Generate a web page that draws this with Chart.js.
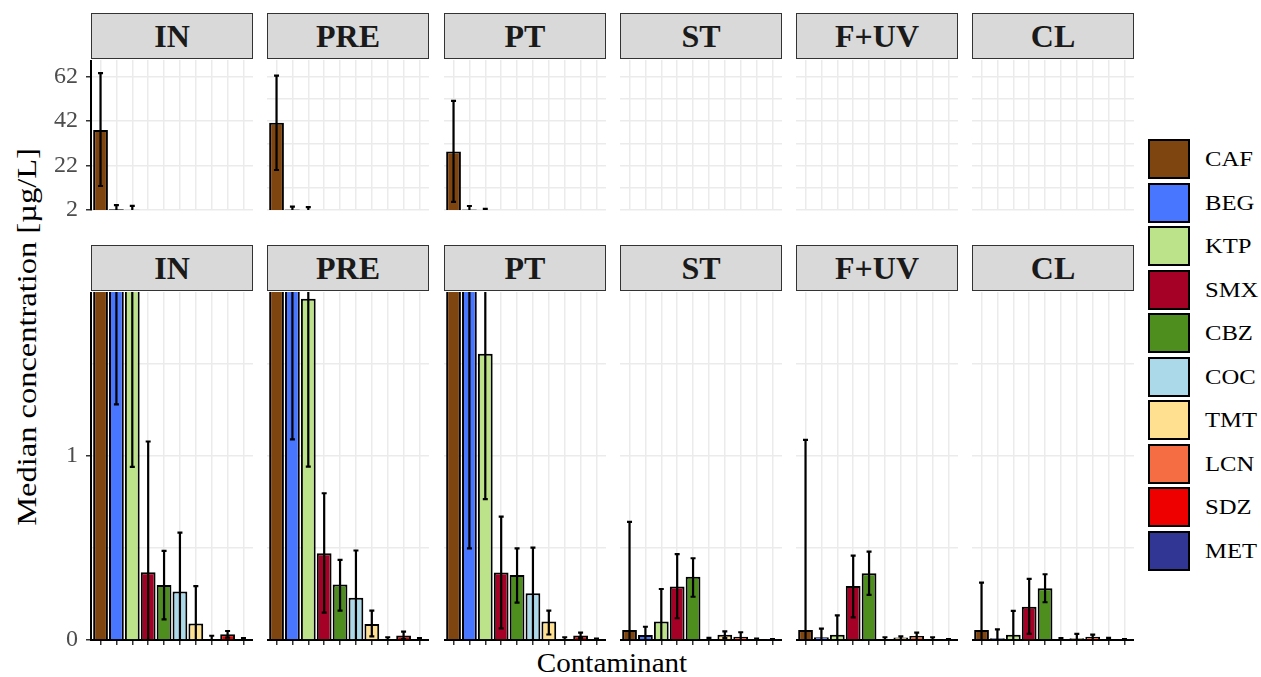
<!DOCTYPE html>
<html lang="en">
<head>
<meta charset="UTF-8">
<title>Median concentration by treatment stage</title>
<script src="https://cdn.jsdelivr.net/npm/chart.js"></script>
<style>
  body { margin: 0; width: 1261px; height: 677px; background: #fff; position: relative; overflow: hidden;
         font-family: "Liberation Serif", "Times New Roman", serif; }
  .panel { position: absolute; }
  .strip { position: absolute; box-sizing: border-box; background: #d9d9d9; border: 1px solid #333;
           font-weight: bold; font-size: 32px; color: #1a1a1a; text-align: center; line-height: 44px; }
  .key { position: absolute; left: 1148px; width: 42px; height: 40px; box-sizing: border-box; border: 2px solid #000; }
  .keylab { position: absolute; left: 1205px; font-size: 22px; line-height: 40px; color: #000;
            transform: scaleX(1.12); transform-origin: 0 50%; }
  #ytitle { position: absolute; left: 27px; top: 337px; transform: translate(-50%, -50%) rotate(-90deg) scaleX(1.16);
            white-space: nowrap; font-size: 28px; }
  #xtitle { position: absolute; left: 612px; top: 663px; transform: translate(-50%, -50%) scaleX(1.04);
            white-space: nowrap; font-size: 28px; }
</style>
</head>
<body>
<div id="ytitle">Median concentration [µg/L]</div>
<div id="xtitle">Contaminant</div>

<script>
// categories and stages
const contaminants = ['CAF', 'BEG', 'KTP', 'SMX', 'CBZ', 'COC', 'TMT', 'LCN', 'SDZ', 'MET'];
const colours = ['#7F4510', '#4876FF', '#BDE38A', '#A50026', '#4D8E1F', '#ABD9E9', '#FEE090', '#F46D43', '#EE0000', '#313695'];
const stages = ['IN', 'PRE', 'PT', 'ST', 'F+UV', 'CL'];

// medians and error bar ends (µg/L)
const medIN   = [38.0, 2.3, 2.1, 0.368, 0.299, 0.263, 0.089, 0.004, 0.031, 0.003];
const lowIN   = [12.8, 1.28, 0.94, 0.0, 0.112, 0.0, 0.0, 0.0, 0.013, 0.0];
const highIN  = [63.6, 4.2, 3.9, 1.078, 0.484, 0.583, 0.293, 0.023, 0.049, 0.01];

const medPRE  = [41.3, 2.2, 1.853, 0.471, 0.302, 0.23, 0.087, 0.004, 0.024, 0.003];
const lowPRE  = [20.0, 1.09, 0.942, 0.149, 0.16, 0.0, 0.02, 0.0, 0.005, 0.0];
const highPRE = [62.5, 3.5, 3.3, 0.797, 0.435, 0.486, 0.16, 0.015, 0.045, 0.01];

const medPT   = [28.3, 2.2, 1.554, 0.366, 0.353, 0.254, 0.1, 0.005, 0.024, 0.003];
const lowPT   = [5.7, 0.498, 0.765, 0.063, 0.203, 0.0, 0.03, 0.0, 0.01, 0.0];
const highPT  = [51.1, 3.8, 2.5, 0.67, 0.498, 0.502, 0.16, 0.015, 0.04, 0.008];

const medST   = [0.054, 0.027, 0.101, 0.29, 0.344, 0.005, 0.029, 0.018, 0.003, 0.002];
const lowST   = [0.0, 0.0, 0.0, 0.118, 0.235, 0.0, 0.01, 0.0, 0.0, 0.0];
const highST  = [0.641, 0.072, 0.277, 0.466, 0.444, 0.012, 0.047, 0.042, 0.008, 0.005];

const medFUV  = [0.054, 0.015, 0.029, 0.293, 0.362, 0.005, 0.013, 0.022, 0.005, 0.002];
const lowFUV  = [0.0, 0.0, 0.0, 0.123, 0.245, 0.0, 0.0, 0.0, 0.0, 0.0];
const highFUV = [1.087, 0.062, 0.134, 0.458, 0.48, 0.015, 0.02, 0.04, 0.015, 0.005];

const medCL   = [0.054, 0.01, 0.029, 0.181, 0.281, 0.004, 0.01, 0.018, 0.005, 0.002];
const lowCL   = [0.0, 0.0, 0.0, 0.033, 0.205, 0.0, 0.0, 0.0, 0.0, 0.0];
const highCL  = [0.312, 0.058, 0.158, 0.332, 0.357, 0.01, 0.033, 0.029, 0.012, 0.005];

// y axis ticks for the two rows (broken axis)
const topGrid = [2, 12, 22, 32, 42, 52, 62];
const topLabels = [2, 22, 42, 62];
const bottomGrid = [0, 0.5, 1, 1.5];
const bottomLabels = [0, 1];

const meds = [medIN, medPRE, medPT, medST, medFUV, medCL];
const lows = [lowIN, lowPRE, lowPT, lowST, lowFUV, lowCL];
const highs = [highIN, highPRE, highPT, highST, highFUV, highCL];

// draws the error bars with the chart's own scales
const errorBars = {
  id: 'errorBars',
  afterDatasetsDraw(chart, args, opts) {
    const { ctx, chartArea: a, scales: { x, y } } = chart;
    ctx.save();
    ctx.beginPath();
    ctx.rect(a.left, a.top, a.right - a.left, a.bottom - a.top);
    ctx.clip();
    ctx.strokeStyle = '#000';
    ctx.lineWidth = 2.2;
    opts.low.forEach((lo, i) => {
      const px = x.getPixelForValue(i);
      const p1 = y.getPixelForValue(lo);
      const p2 = y.getPixelForValue(opts.high[i]);
      ctx.beginPath();
      ctx.moveTo(px, p1); ctx.lineTo(px, p2);
      ctx.moveTo(px - 2.5, p1); ctx.lineTo(px + 2.5, p1);
      ctx.moveTo(px - 2.5, p2); ctx.lineTo(px + 2.5, p2);
      ctx.stroke();
    });
    ctx.restore();
  }
};

const panelX = [91, 267, 444, 620, 796, 972];
const panelW = 162;
const rows = [
  { plotTop: 60, plotH: 150, min: 2, max: 69.5, grid: topGrid, labels: topLabels },
  { plotTop: 292, plotH: 348, min: 0, max: 1.89, grid: bottomGrid, labels: bottomLabels }
];
const yAxisW = 60;
const xAxisH = 18;

rows.forEach((row, r) => {
  stages.forEach((stage, c) => {
    const strip = document.createElement('div');
    strip.className = 'strip';
    strip.style.left = panelX[c] + 'px';
    strip.style.top = (row.plotTop - 47) + 'px';
    strip.style.width = panelW + 'px';
    strip.style.height = '46px';
    strip.textContent = stage;
    document.body.appendChild(strip);

    const extraL = c === 0 ? yAxisW : 0;
    const box = document.createElement('div');
    box.className = 'panel';
    box.style.left = (panelX[c] - extraL) + 'px';
    box.style.top = row.plotTop + 'px';
    box.style.width = (panelW + extraL) + 'px';
    box.style.height = (row.plotH + xAxisH) + 'px';
    const canvas = document.createElement('canvas');
    box.appendChild(canvas);
    document.body.appendChild(box);

    const isTop = r === 0;
    new Chart(canvas, {
      type: 'bar',
      data: {
        datasets: [{
          data: meds[c].map((v, i) => ({ x: i, y: v })),
          backgroundColor: colours,
          borderColor: '#000',
          borderWidth: 2,
          borderSkipped: 'start',
          barPercentage: 0.93,
          categoryPercentage: 1,
          clip: 0
        }]
      },
      options: {
        responsive: true,
        maintainAspectRatio: false,
        animation: false,
        layout: { padding: 0 },
        plugins: {
          legend: { display: false },
          tooltip: { enabled: false },
          errorBars: { low: lows[c], high: highs[c] }
        },
        scales: {
          x: {
            type: 'linear',
            offset: false,
            min: -0.6,
            max: 9.6,
            afterBuildTicks: s => { s.ticks = contaminants.map((name, i) => ({ value: i })); },
            afterFit: s => { s.height = xAxisH; s.paddingLeft = 0; s.paddingRight = 0; },
            ticks: { display: false },
            grid: { offset: false, color: '#ebebeb', lineWidth: 1.5, drawTicks: !isTop, tickLength: 5, tickColor: '#333', tickWidth: 1.5 },
            border: { display: !isTop, color: '#000', width: 2 }
          },
          y: {
            min: row.min,
            max: row.max,
            afterBuildTicks: s => { s.ticks = row.grid.map(v => ({ value: v })); },
            afterFit: s => { s.width = c === 0 ? yAxisW : 0; s.paddingTop = 0; s.paddingBottom = 0; },
            ticks: {
              display: c === 0,
              padding: 8,
              color: '#4d4d4d',
              font: { family: '"Liberation Serif", serif', size: 24 },
              callback: v => row.labels.includes(v) ? String(v) : ''
            },
            grid: {
              color: '#ebebeb',
              lineWidth: 1.5,
              drawTicks: c === 0,
              tickLength: 5,
              tickWidth: 1.5,
              tickColor: ctx => row.labels.includes(ctx.tick.value) ? '#333' : 'rgba(0,0,0,0)'
            },
            border: { display: c === 0, color: '#000', width: 2 }
          }
        }
      },
      plugins: [errorBars]
    });
  });
});

// legend
contaminants.forEach((name, i) => {
  const y = 139 + i * 43.5;
  const key = document.createElement('div');
  key.className = 'key';
  key.style.top = y + 'px';
  key.style.background = colours[i];
  document.body.appendChild(key);
  const lab = document.createElement('div');
  lab.className = 'keylab';
  lab.style.top = y + 'px';
  lab.textContent = name;
  document.body.appendChild(lab);
});
</script>
</body>
</html>
